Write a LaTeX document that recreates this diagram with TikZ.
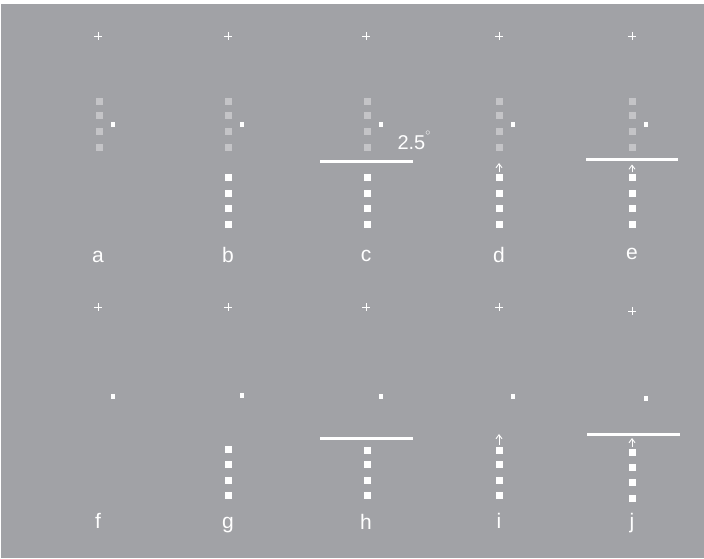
\documentclass[tikz,border=0pt]{standalone}
\usepackage{fontspec}
\setmainfont{Liberation Sans}
\usetikzlibrary{arrows.meta}

\definecolor{bggray}{RGB}{161,162,166}
\definecolor{sqgray}{RGB}{196,196,199}

\begin{document}
\begin{tikzpicture}[x=1pt, y=-1pt,
  fix/.style={white, line width=1pt},
  graysq/.style={fill=sqgray, minimum size=7pt, inner sep=0pt},
  whitesq/.style={fill=white, minimum size=7pt, inner sep=0pt},
  target/.style={fill=white, minimum width=4pt, minimum height=5pt, inner sep=0pt},
  occluder/.style={white, line width=3pt},
  cue/.style={white, line width=0.9pt, -{Straight Barb[length=4pt,width=6pt]}},
  panel/.style={white, font=\fontsize{21}{25}\selectfont, anchor=base}]

  % Background
  \useasboundingbox (0,0) rectangle (704,558);
  \fill[white] (0,0) rectangle (704,558);
  \fill[bggray] (1,4) rectangle (704,558);

  % Fixation crosses
  \foreach \x/\y in {98/36, 228/36, 366/36, 499/36, 632/36,
                     98/307, 228/307, 366/307, 499/307, 632/311} {
    \draw[fix] (\x-4,\y) -- (\x+4,\y);
    \draw[fix] (\x,\y-4) -- (\x,\y+4);
  }

  % Top row: grey stack and target dot
  \foreach \p/\x in {a/99, b/228, c/367, d/499, e/632} {
    \foreach \i/\y in {1/101, 2/115.5, 3/131, 4/147}
      \node[graysq] (\p-g\i) at (\x,\y) {};
    \node[target] (\p-t) at (\x+14,124) {};
  }

  % Top row: white stack
  \foreach \p/\x in {b/228, c/367, d/499, e/632}
    \foreach \i/\y in {1/177.5, 2/193, 3/208.5, 4/224}
      \node[whitesq] (\p-w\i) at (\x,\y) {};

  % Top row: occluders and cues
  \draw[occluder] (320,161) -- (413,161);
  \draw[occluder] (586,159.5) -- (678,159.5);
  \coordinate (d-tip) at (499,163);
  \coordinate (e-tip) at (632,164.5);
  \draw[cue] ([yshift=1.5pt]d-w1.north) -- (d-tip);
  \draw[cue] ([yshift=1.5pt]e-w1.north) -- (e-tip);
  \node[white, font=\fontsize{20}{24}\selectfont, anchor=base west] (deg) at (394,149)
    {2.5\raisebox{14pt}{$\scriptscriptstyle\circ$}};

  % Bottom row: target dot
  \foreach \p/\x/\y in {f/113/396, g/242/395, h/381/396, i/513/396, j/646/398}
    \node[target] (\p-t) at (\x,\y) {};

  % Bottom row: white stack
  \foreach \p/\x/\ya/\yb/\yc/\yd in {g/228/449/464/480/495, h/367/450/464.5/480/495,
                                     i/499/450/464.5/480/495.5, j/632/452/467.5/482.5/498} {
    \node[whitesq] (\p-w1) at (\x,\ya) {};
    \node[whitesq] (\p-w2) at (\x,\yb) {};
    \node[whitesq] (\p-w3) at (\x,\yc) {};
    \node[whitesq] (\p-w4) at (\x,\yd) {};
  }

  % Bottom row: occluders and cues
  \draw[occluder] (320,438) -- (413,438);
  \draw[occluder] (587,434) -- (680,434);
  \coordinate (i-tip) at (499,434);
  \coordinate (j-tip) at (632,438);
  \draw[cue] ([yshift=1.5pt]i-w1.north) -- (i-tip);
  \draw[cue] ([yshift=1.5pt]j-w1.north) -- (j-tip);

  % Panel letters
  \foreach \l/\x/\y in {a/98/262, b/228/262, c/366/261, d/499/262, e/632/259,
                        f/98/528, g/228/528, h/366/529, i/499/528, j/632/528}
    \node[panel] (lab-\l) at (\x,\y) {\l};
\end{tikzpicture}
\end{document}
